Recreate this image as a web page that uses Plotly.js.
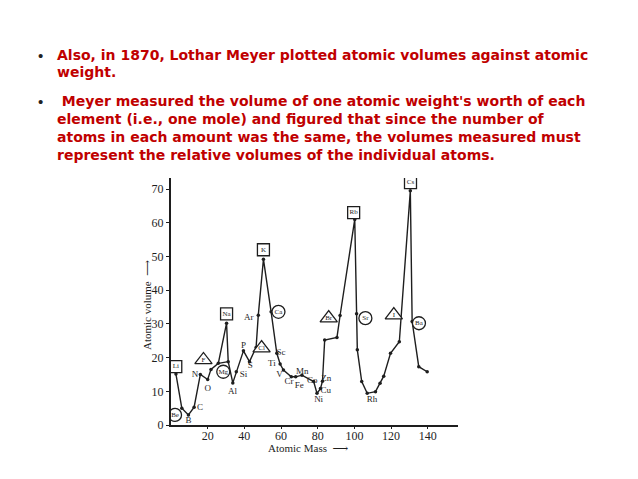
<!DOCTYPE html>
<html><head><meta charset="utf-8">
<script src="https://cdn.plot.ly/plotly-3.0.1.min.js"></script>
<style>html,body{margin:0;padding:0;background:#fff;}#chart{width:638px;height:479px;}</style>
</head><body><div id="chart"></div>
<script>
// Meyer's atomic volume curve
const massX   = [2.7, 5.9, 9.5, 12.6, 16.0, 20.0, 21.8, 25.8, 30.3, 31.2, 33.7, 35.6, 39.5, 42.8, 46.4, 47.6, 50.4, 54.6, 57.7, 59.5, 61.3, 65.6, 68.0, 71.4, 77.8, 79.6, 81.5, 82.6, 83.8, 90.5, 92.2, 100.2, 101.2, 101.6, 104.0, 107.0, 111.5, 114.0, 116.0, 119.7, 124.5, 130.5, 131.5, 135.1, 139.7];
const volumeY = [15.1, 5.0, 3.0, 5.3, 15.0, 13.5, 16.5, 18.3, 30.2, 18.8, 12.5, 15.8, 22.0, 18.8, 23.0, 32.6, 49.2, 33.6, 21.3, 18.1, 16.3, 14.3, 14.3, 14.8, 12.9, 9.4, 10.8, 13.0, 25.2, 26.0, 32.5, 61.0, 33.0, 22.3, 12.9, 9.4, 9.9, 12.4, 14.5, 21.3, 24.7, 69.5, 30.7, 17.3, 15.8];

// extra segment closing the Na triangle
const naBaseX = [25.8, 31.2];
const naBaseY = [18.3, 18.8];

// plain element labels
const plainText = ["N", "O", "Al", "Si", "P", "S", "B", "C", "Ar", "Sc", "Ti", "V", "Cr", "Fe", "Mn", "Co", "Zn", "Cu", "Ni", "Rh"];
const plainX    = [13.1, 20.0, 33.5, 39.5, 39.5, 43.2, 9.5, 15.8, 42.4, 60.0, 55.0, 59.2, 64.4, 70.0, 71.6, 77.0, 84.6, 84.4, 80.5, 109.6];
const plainY    = [14.8, 10.9, 9.9, 14.8, 23.5, 17.6, 1.2, 5.0, 31.7, 21.3, 18.1, 14.8, 12.9, 11.7, 15.8, 13.2, 13.6, 10.2, 7.4, 7.4];

// boxed (alkali metals)
const boxText = ["Li", "Na", "K", "Rb", "Cs"];
const boxX    = [2.6, 30.3, 50.4, 99.6, 130.6];
const boxY    = [17.3, 33.0, 52.0, 63.0, 71.9];
// circled (alkaline earths)
const circText = ["Be", "Mg", "Ca", "Sr", "Ba"];
const circX    = [2.2, 28.5, 58.6, 106.0, 135.2];
const circY    = [3.0, 15.8, 33.6, 31.7, 30.2];
// triangles (halogens)
const triText = ["F", "Cl", "Br", "I"];
const triX    = [17.7, 49.4, 86.0, 121.5];
const triY    = [19.3, 22.8, 31.7, 32.6];

const xTicks = [20, 40, 60, 80, 100, 120, 140];
const yTicks = [0, 10, 20, 30, 40, 50, 60, 70];

const bulletLines = [
  {t: "Also, in 1870, Lothar Meyer plotted atomic volumes against atomic", px: 55, py: 55, b: true},
  {t: "weight.", px: 55, py: 72, b: false},
  {t: " Meyer measured the volume of one atomic weight's worth of each", px: 55, py: 101, b: true},
  {t: "element (i.e., one mole) and figured that since the number of", px: 55, py: 119, b: false},
  {t: "atoms in each amount was the same, the volumes measured must", px: 55, py: 137, b: false},
  {t: "represent the relative volumes of the individual atoms.", px: 55, py: 155, b: false}
];

const L = 171, R = 458, T = 178, B = 425, W = 638, H = 479;
const px2x = p => (p - L) / (R - L);
const py2y = p => (B - p) / (B - T);

const serif = "Liberation Serif, DejaVu Serif, serif";
const ink = "#1e1e1e";

const traces = [
  {x: massX, y: volumeY, mode: "lines+markers", type: "scatter",
   line: {color: ink, width: 1.4}, marker: {color: ink, size: 3.5}, hoverinfo: "skip"},
  {x: naBaseX, y: naBaseY, mode: "lines", type: "scatter",
   line: {color: ink, width: 1.2}, hoverinfo: "skip"},
  {x: plainX, y: plainY, text: plainText, mode: "text", type: "scatter",
   textfont: {family: serif, size: 9, color: ink}, hoverinfo: "skip"},
  {x: boxX, y: boxY, text: boxText, mode: "markers+text", type: "scatter", textposition: "middle center",
   marker: {symbol: "square", size: 12, color: "white", line: {color: ink, width: 1.3}},
   textfont: {family: serif, size: 7, color: ink}, hoverinfo: "skip"},
  {x: circX, y: circY, text: circText, mode: "markers+text", type: "scatter", textposition: "middle center",
   marker: {symbol: "circle", size: 13, color: "white", line: {color: ink, width: 1.3}},
   textfont: {family: serif, size: 7, color: ink}, hoverinfo: "skip"},
  {x: triX, y: triY, text: triText, mode: "markers+text", type: "scatter", textposition: "middle center",
   marker: {symbol: "triangle-up", size: 15, color: "white", line: {color: ink, width: 1.3}},
   textfont: {family: serif, size: 7, color: ink}, hoverinfo: "skip"}
];

const annotations = [];
bulletLines.forEach(l => {
  annotations.push({xref: "paper", yref: "paper", x: px2x(l.px), y: py2y(l.py), xanchor: "left", yanchor: "middle",
    text: l.t, showarrow: false,
    font: {family: "DejaVu Sans, Verdana, sans-serif", size: 14, color: "#c00000", weight: "bold"}});
  if (l.b) annotations.push({xref: "paper", yref: "paper", x: px2x(40), y: py2y(l.py), xanchor: "center", yanchor: "middle",
    text: "•", showarrow: false, font: {family: "Liberation Sans, Arial, sans-serif", size: 15, color: "#222"}});
});
// axis titles placed where the reference shows them
annotations.push({xref: "paper", yref: "paper", x: px2x(308), y: py2y(448), xanchor: "center", yanchor: "middle",
  text: "Atomic Mass  ⟶", showarrow: false, font: {family: serif, size: 11, color: ink}});
annotations.push({xref: "paper", yref: "paper", x: px2x(147), y: py2y(305), xanchor: "center", yanchor: "middle",
  text: "Atomic volume  ⟶", textangle: -90, showarrow: false, font: {family: serif, size: 11, color: ink}});

const layout = {
  width: W, height: H,
  margin: {l: L, r: W - R, t: T, b: H - B, pad: 0},
  paper_bgcolor: "white", plot_bgcolor: "white",
  showlegend: false,
  font: {family: serif, color: ink},
  xaxis: {range: [0, 156.5], tickvals: xTicks, ticks: "outside", ticklen: 2, tickcolor: ink,
    ticklabelstandoff: -3,
    showline: true, linecolor: ink, linewidth: 2, showgrid: false, zeroline: false,
    tickfont: {family: serif, size: 12, color: ink}},
  yaxis: {range: [0, 73.3], tickvals: yTicks, ticks: "outside", ticklen: 3, tickcolor: ink,
    showline: true, linecolor: ink, linewidth: 2, showgrid: false, zeroline: false,
    tickfont: {family: serif, size: 12, color: ink}},
  annotations: annotations
};

Plotly.newPlot("chart", traces, layout, {staticPlot: true, displayModeBar: false});
</script></body></html>
